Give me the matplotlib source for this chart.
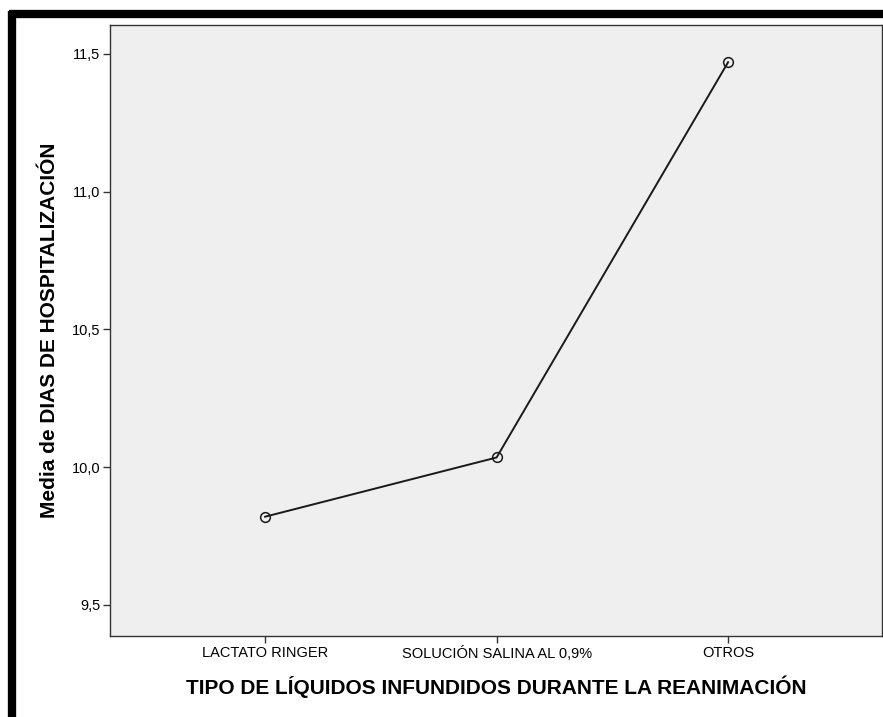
import matplotlib
matplotlib.use("Agg")
import matplotlib.pyplot as plt
from matplotlib.lines import Line2D
from matplotlib.ticker import FuncFormatter

plt.rcParams['font.family'] = ['Liberation Sans', 'DejaVu Sans']

# ==================== Data ====================
categories = ['LACTATO RINGER', 'SOLUCIÓN SALINA AL 0,9%', 'OTROS']
mean_days = [9.82, 10.035, 11.47]
y_ticks = [9.5, 10.0, 10.5, 11.0, 11.5]

x_label = 'TIPO DE LÍQUIDOS INFUNDIDOS DURANTE LA REANIMACIÓN'
y_label = 'Media de DIAS DE HOSPITALIZACIÓN'

# ==================== Figure ====================
fig = plt.figure(figsize=(8.83, 7.17), dpi=100)
ax = fig.add_axes([0.1246, 0.1130, 0.8743, 0.8521])
ax.set_facecolor('#efefef')

x = list(range(len(categories)))
ax.plot(x, mean_days, color='#1a1a1a', linewidth=1.4,
        marker='o', markersize=7, markerfacecolor='none',
        markeredgecolor='#1a1a1a', markeredgewidth=1.1)

ax.set_xlim(-0.67, 2.665)
ax.set_ylim(9.387, 11.605)
ax.set_xticks(x)
ax.set_xticklabels(categories)
ax.set_yticks(y_ticks)
ax.yaxis.set_major_formatter(FuncFormatter(lambda v, p: f'{v:.1f}'.replace('.', ',')))
ax.tick_params(axis='both', direction='out', length=5, width=1, colors='#333333',
               labelcolor='black', labelsize=10.5, pad=2)

for side in ax.spines.values():
    side.set_color('#333333')
    side.set_linewidth(1.0)

ax.set_xlabel(x_label, fontsize=15, fontweight='bold', labelpad=11)
ax.set_ylabel(y_label, fontsize=15, fontweight='bold', labelpad=9)

# thick black frame along top and left edges
fig.add_artist(Line2D([0.0102, 1.0], [0.9805, 0.9805], color='black', linewidth=6,
                      transform=fig.transFigure, solid_capstyle='butt'))
fig.add_artist(Line2D([0.0136, 0.0136], [0.0, 0.985], color='black', linewidth=6,
                      transform=fig.transFigure, solid_capstyle='butt'))

fig.savefig('out.png', dpi=100)
